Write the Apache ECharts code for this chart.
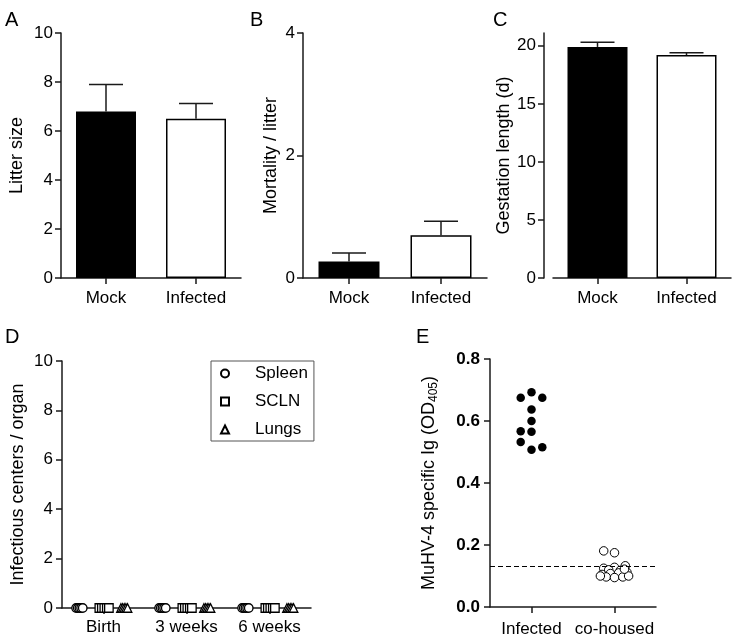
<!DOCTYPE html>
<html><head><meta charset="utf-8">
<script src="https://cdn.jsdelivr.net/npm/echarts@6/dist/echarts.min.js"></script>
<style>html,body{margin:0;padding:0;background:#fff}#c{width:737px;height:641px}</style>
</head><body><div id="c"></div>
<script>
// ---- Data ----
const groups = ['Mock', 'Infected'];
const groupColors = ['#000000', '#ffffff'];
const litterMean = [6.8, 6.5];
const litterUpper = [7.9, 7.12];
const mortalityMean = [0.27, 0.70];
const mortalityUpper = [0.41, 0.925];
const gestationMean = [19.9, 19.2];
const gestationUpper = [20.3, 19.4];
const gestationTicks = [0, 5, 10, 15, 20];

const timepoints = ['Birth', '3 weeks', '6 weeks'];
const organs = ['Spleen', 'SCLN', 'Lungs'];
const organSymbols = ['circle', 'rect', 'triangle'];
const spleenIC = [[0, 0, 0, 0, 0], [0, 0, 0, 0, 0], [0, 0, 0, 0, 0]];
const sclnIC = [[0, 0, 0, 0, 0], [0, 0, 0, 0, 0], [0, 0, 0, 0, 0]];
const lungsIC = [[0, 0, 0, 0, 0], [0, 0, 0, 0, 0], [0, 0, 0, 0, 0]];
const spleenX = [-0.33, -0.31, -0.29, -0.27, -0.25];
const sclnX = [-0.05, -0.02, 0.01, 0.04, 0.065];
const lungsX = [0.21, 0.23, 0.25, 0.27, 0.29];

const serologyGroups = ['Infected', 'co-housed'];
const infectedOD = [0.675, 0.693, 0.675, 0.637, 0.600, 0.567, 0.565, 0.532, 0.507, 0.515];
const infectedX = [-0.13, 0, 0.13, 0, 0, -0.13, 0, -0.13, 0, 0.13];
const cohousedOD = [0.181, 0.175, 0.125, 0.128, 0.133, 0.12, 0.118, 0.105, 0.108, 0.11, 0.112, 0.097, 0.095, 0.097, 0.1, 0.1, 0.122];
const cohousedX = [-0.13, 0, -0.13, 0, 0.13, -0.07, 0.07, -0.15, -0.05, 0.05, 0.15, -0.1, 0, 0.1, 0.17, -0.17, 0.12];
const cutoffOD = 0.13;

// ---- Styles ----
const FONT = '"Liberation Sans", Arial, Helvetica, sans-serif';
const AX = '#1a1a1a';
const axisLine = { show: true, lineStyle: { color: AX, width: 1.5 } };
const axisTick = { show: true, length: 6, lineStyle: { color: AX, width: 1.5 } };

function yAx(gi, max, interval, name, gap, extra) {
  return Object.assign({
    gridIndex: gi, type: 'value', min: 0, max: max, interval: interval,
    name: name, nameLocation: 'middle', nameGap: gap, nameRotate: 90,
    nameTextStyle: { fontSize: 18, color: '#000', fontFamily: FONT },
    axisLine: axisLine, axisTick: axisTick,
    axisLabel: { fontSize: 17, color: '#000', margin: 8, fontFamily: FONT },
    splitLine: { show: false }
  }, extra || {});
}
function xCat(gi, data, margin) {
  return {
    gridIndex: gi, type: 'category', data: data,
    axisLine: axisLine,
    axisTick: { show: true, alignWithLabel: true, interval: 0, length: 6, lineStyle: { color: AX, width: 1.5 } },
    axisLabel: { fontSize: 17, color: '#000', margin: margin, interval: 0, fontFamily: FONT },
    splitLine: { show: false }
  };
}
function barSeries(idx, means, width) {
  return {
    type: 'bar', xAxisIndex: idx, yAxisIndex: idx, barWidth: width,
    data: means.map((v, i) => ({ value: v, itemStyle: { color: groupColors[i] } })),
    itemStyle: { borderColor: '#000', borderWidth: 1.5 }, z: 2
  };
}
function errSeries(idx, means, uppers) {
  return {
    type: 'custom', xAxisIndex: idx, yAxisIndex: idx, z: 3,
    data: means.map((m, i) => [i, m, uppers[i]]),
    encode: { x: 0, y: [1, 2] },
    renderItem: function (params, api) {
      const p0 = api.coord([api.value(0), api.value(1)]);
      const p1 = api.coord([api.value(0), api.value(2)]);
      const hw = 17;
      const st = { stroke: '#1a1a1a', lineWidth: 1.5 };
      return { type: 'group', children: [
        { type: 'line', shape: { x1: p0[0], y1: p0[1], x2: p1[0], y2: p1[1] }, style: st },
        { type: 'line', shape: { x1: p1[0] - hw, y1: p1[1], x2: p1[0] + hw, y2: p1[1] }, style: st }
      ] };
    }
  };
}

const organIC = [spleenIC, sclnIC, lungsIC];
const organX = [spleenX, sclnX, lungsX];
const dSeries = organs.map((name, o) => {
  const data = [];
  timepoints.forEach((t, ti) => {
    organIC[o][ti].forEach((v, k) => data.push([ti + 0.5 + organX[o][k], v]));
  });
  return {
    name: name, type: 'scatter', xAxisIndex: 5, yAxisIndex: 3, clip: false,
    symbol: organSymbols[o], symbolSize: 8.5,
    itemStyle: { color: '#fff', borderColor: '#000', borderWidth: 1.3, opacity: 1 },
    data: data, z: 4
  };
});

const option = {
  animation: false,
  backgroundColor: '#fff',
  textStyle: { fontFamily: FONT },
  title: [
    { text: 'A', left: 5, top: 10 },
    { text: 'B', left: 250, top: 10 },
    { text: 'C', left: 493, top: 10 },
    { text: 'D', left: 5, top: 327 },
    { text: 'E', left: 416, top: 327 }
  ].map(t => Object.assign(t, { padding: 0, textStyle: { fontSize: 20, fontWeight: 'normal', color: '#000', fontFamily: FONT } })),
  grid: [
    { left: 61, top: 33, width: 180, height: 245 },
    { left: 303, top: 33, width: 184, height: 245 },
    { left: 553, top: 33, width: 178, height: 245 },
    { left: 62, top: 361, width: 249, height: 247 },
    { left: 490, top: 359, width: 166, height: 248 }
  ],
  legend: {
    data: organs, orient: 'vertical', left: 211, top: 361,
    borderColor: '#555', borderWidth: 1, padding: [4, 6, 3, 9],
    itemWidth: 8, itemHeight: 8, itemGap: 11,
    textStyle: { fontSize: 17, color: '#000', fontFamily: FONT, padding: [0, 0, 0, 21] }
  },
  xAxis: [
    xCat(0, groups, 12),
    xCat(1, groups, 12),
    xCat(2, groups, 12),
    xCat(3, timepoints, 11),
    xCat(4, serologyGroups, 14),
    { gridIndex: 3, type: 'value', min: 0, max: 3, show: false },
    { gridIndex: 4, type: 'value', min: 0, max: 2, show: false }
  ],
  yAxis: [
    yAx(0, 10, 2, 'Litter size', 35),
    yAx(1, 4, 2, 'Mortality / litter', 23),
    yAx(2, 21.1, 5, 'Gestation length (d)', 27, {
      offset: 9,
      axisTick: Object.assign({}, axisTick, { customValues: gestationTicks }),
      axisLabel: { fontSize: 17, color: '#000', margin: 8, fontFamily: FONT, customValues: gestationTicks }
    }),
    yAx(3, 10, 2, 'Infectious centers / organ', 35, {
      axisLabel: { fontSize: 17, color: '#000', margin: 9, fontFamily: FONT }
    }),
    yAx(4, 0.8, 0.2, 'MuHV-4 specific Ig (OD{sub|405})', 50, {
      nameTextStyle: { fontSize: 18, color: '#000', fontFamily: FONT,
        rich: { sub: { fontSize: 12, fontFamily: FONT, color: '#000', verticalAlign: 'bottom', padding: [9, 0, 0, 0] } } },
      axisLabel: { fontSize: 17, fontWeight: 'bold', color: '#000', margin: 10, fontFamily: FONT,
        formatter: v => v.toFixed(1) }
    })
  ],
  series: [
    barSeries(0, litterMean, 60), errSeries(0, litterMean, litterUpper),
    barSeries(1, mortalityMean, 61), errSeries(1, mortalityMean, mortalityUpper),
    barSeries(2, gestationMean, 60), errSeries(2, gestationMean, gestationUpper),
    ...dSeries,
    {
      name: 'Infected', type: 'scatter', xAxisIndex: 6, yAxisIndex: 4, symbolSize: 8.5,
      itemStyle: { color: '#000', opacity: 1 },
      data: infectedOD.map((v, i) => [0.5 + infectedX[i], v])
    },
    {
      name: 'co-housed', type: 'scatter', xAxisIndex: 6, yAxisIndex: 4, symbolSize: 8.5,
      itemStyle: { color: '#fff', borderColor: '#000', borderWidth: 1, opacity: 1 },
      data: cohousedOD.map((v, i) => [1.5 + cohousedX[i], v]),
      markLine: {
        silent: true, symbol: 'none', label: { show: false },
        lineStyle: { color: '#000', type: [5, 3], width: 1.2 },
        data: [{ yAxis: cutoffOD }]
      }
    }
  ]
};
const chart = echarts.init(document.getElementById('c'), null, { renderer: 'canvas' });
chart.setOption(option);
</script>
</body></html>
